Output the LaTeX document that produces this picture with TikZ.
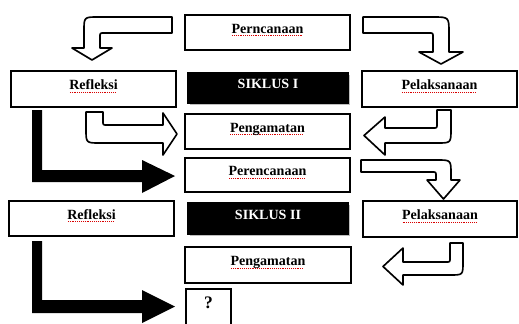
\documentclass[tikz,border=0pt]{standalone}
\usepackage{fontspec}
\setmainfont{Liberation Serif}
\usetikzlibrary{shadows}

\newsavebox\sqbox
\newcommand\spellsq[1]{\sbox\sqbox{#1}\rlap{\color{red!85!black}\leaders\hbox to 1.6pt{\hss\rule[-0.45ex]{0.8pt}{0.6pt}\hss}\hskip\wd\sqbox}\usebox\sqbox}

\begin{document}
\begin{tikzpicture}[x=0.03cm,y=-0.03cm,
    box/.style={draw,line width=1.6pt,inner sep=0pt,text height=0.7em,text depth=0.6em,
        font=\fontsize{12}{14}\selectfont\bfseries},
    blackbox/.style={box,draw=black,fill=black,text=white,
        drop shadow={shadow xshift=1.6pt,shadow yshift=-1.6pt,fill=black!25,opacity=1}},
    hollow/.style={draw,line width=1.4pt,fill=white,line join=round},
    solid/.style={fill=black}]
    \useasboundingbox (0,0) rectangle (519,323);

    \node[box,minimum width=4.95cm,minimum height=1.05cm] (perc1) at (267.5,32.5) {\spellsq{Perncanaan}};
    \node[box,minimum width=4.95cm,minimum height=1.08cm] (ref1) at (93.5,89) {\spellsq{Refleksi}};
    \node[blackbox,minimum width=4.8cm,minimum height=0.9cm] (sik1) at (268,88) {SIKLUS I};
    \node[box,minimum width=4.65cm,minimum height=1.08cm] (pel1) at (439.5,89) {\spellsq{Pelaksanaan}};
    \node[box,minimum width=4.95cm,minimum height=1.05cm] (peng1) at (267.5,131.5) {\spellsq{Pengamatan}};
    \node[box,minimum width=4.95cm,minimum height=1.02cm] (perc2) at (267.5,175) {\spellsq{Perencanaan}};
    \node[box,minimum width=4.95cm,minimum height=1.05cm] (ref2) at (91.5,218.5) {\spellsq{Refleksi}};
    \node[blackbox,minimum width=4.8cm,minimum height=0.93cm] (sik2) at (268,218.5) {SIKLUS II};
    \node[box,minimum width=4.62cm,minimum height=1.08cm] (pel2) at (440,219) {\spellsq{Pelaksanaan}};
    \node[box,minimum width=4.98cm,minimum height=1.08cm] (peng2) at (268,265) {\spellsq{Pengamatan}};
    \node[box,minimum width=1.35cm,minimum height=1.11cm,font=\fontsize{15}{17}\selectfont\bfseries] (q) at (208.5,307.5) {?};

    \draw[hollow] (172,17) -- (98,17) .. controls (84,17) .. (84,31) -- (84,48) -- (72,48) -- (92,60)
        -- (112,48) -- (100,48) -- (100,37) .. controls (100,33) .. (104,33) -- (172,33) -- cycle;
    \draw[hollow] (363,17) -- (433,17) .. controls (449,17) .. (449,33) -- (449,52) -- (463,52) -- (441,64)
        -- (419,52) -- (433,52) -- (433,37) .. controls (433,33) .. (429,33) -- (363,33) -- cycle;
    \draw[hollow] (86,112) -- (86,129) .. controls (86,143) .. (100,143) -- (163,143) -- (163,155) -- (177,134)
        -- (163,113) -- (163,125) -- (107,125) .. controls (103,125) .. (103,121) -- (103,112) -- cycle;
    \draw[hollow] (451,110) -- (451,129) .. controls (451,143) .. (437,143) -- (385,143) -- (385,155) -- (364,135.5)
        -- (385,117) -- (385,128) -- (433,128) .. controls (437,128) .. (437,124) -- (437,110) -- cycle;
    \draw[hollow] (361,160) -- (437,160) .. controls (451,160) .. (451,174) -- (451,180) -- (460,180) -- (443.5,199)
        -- (427,180) -- (436,180) -- (436,176) .. controls (436,172) .. (432,172) -- (361,172) -- cycle;
    \draw[hollow] (463,243) -- (463,262) .. controls (463,275) .. (450,275) -- (403,275) -- (403,285) -- (383,266.5)
        -- (403,248) -- (403,262) -- (446,262) .. controls (450,262) .. (450,258) -- (450,243) -- cycle;

    \fill[solid] (32,110) -- (32,182) -- (142,182) -- (142,193) -- (175,176) -- (142,160) -- (142,170)
        -- (42,170) -- (42,110) -- cycle;
    \fill[solid] (32,241) -- (32,313) -- (142,313) -- (142,323) -- (175,306.5) -- (142,290) -- (142,300)
        -- (42,300) -- (42,241) -- cycle;
\end{tikzpicture}
\end{document}
